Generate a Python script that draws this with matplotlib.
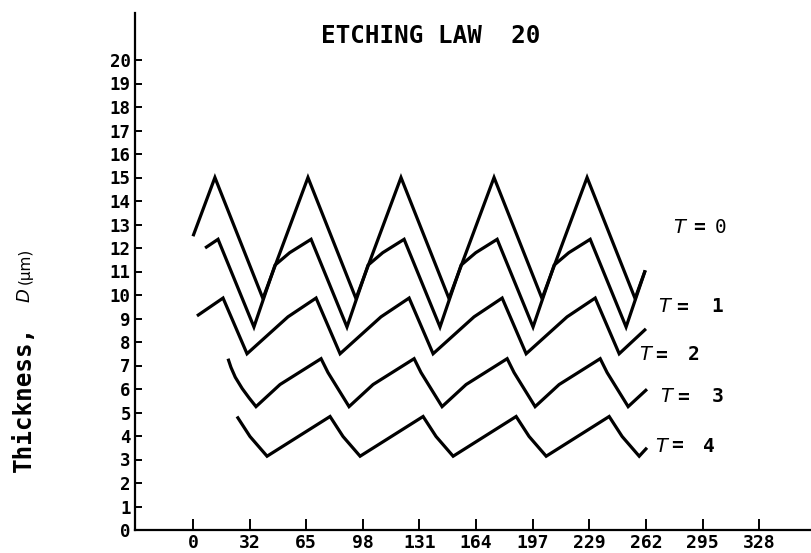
import matplotlib
matplotlib.use("Agg")
import matplotlib.pyplot as plt

W, H = 812, 553

# Thickness profiles (x position, thickness D in micrometres) for each etch time T
t0_x = [0.0, 12.7, 40.5, 66.6, 94.4, 120.5, 148.3, 174.4, 202.2, 228.3, 256.1, 262.0]
t0_y = [12.5, 15.0, 9.85, 15.0, 9.85, 15.0, 9.85, 15.0, 9.85, 15.0, 9.85, 11.05]

t1_x = [7.0, 14.5, 35.3, 47.5, 56.0, 68.4, 89.2, 101.4, 109.9, 122.3, 143.1, 155.3,
        163.8, 176.2, 197.0, 209.2, 217.7, 230.1, 250.9, 262.0]
t1_y = [12.0, 12.37, 8.64, 11.27, 11.8, 12.37, 8.64, 11.27, 11.8, 12.37, 8.64, 11.27,
        11.8, 12.37, 8.64, 11.27, 11.8, 12.37, 8.64, 11.05]

t2_x = [2.3, 17.4, 31.3, 55.0, 71.3, 85.2, 108.9, 125.2, 139.1, 162.8, 179.1, 193.0,
        216.7, 233.0, 246.9, 262.4]
t2_y = [9.11, 9.87, 7.5, 9.07, 9.87, 7.5, 9.07, 9.87, 7.5, 9.07, 9.87, 7.5,
        9.07, 9.87, 7.5, 8.56]

t3_x = [20.3, 22.0, 24.5, 28.5, 32.5, 36.5, 50.4, 74.2, 78.2, 90.4, 104.3, 128.1, 132.1,
        144.3, 158.2, 182.0, 186.0, 198.2, 212.1, 235.9, 239.9, 252.1, 263.0]
t3_y = [7.29, 6.92, 6.50, 6.02, 5.62, 5.25, 6.19, 7.29, 6.70, 5.25, 6.19, 7.29, 6.70,
        5.25, 6.19, 7.29, 6.70, 5.25, 6.19, 7.29, 6.70, 5.25, 5.99]

t4_x = [25.5, 33.0, 42.9, 79.4, 86.9, 96.8, 133.3, 140.8, 150.7, 187.2, 194.7, 204.6,
        241.1, 248.6, 258.5, 263.0]
t4_y = [4.83, 3.98, 3.14, 4.83, 3.98, 3.14, 4.83, 3.98, 3.14, 4.83, 3.98, 3.14,
        4.83, 3.98, 3.14, 3.5]

x_ticks = [0, 32.8, 65.6, 98.4, 131.2, 164.0, 196.8, 229.6, 262.4, 295.2, 328.0]
x_tick_labels = ["0", "32", "65", "98", "131", "164", "197", "229", "262", "295", "328"]
y_ticks = list(range(0, 21))
y_tick_labels = [str(v) for v in y_ticks]

curve_labels = ["0", "1", "2", "3", "4"]

MONO = "DejaVu Sans Mono"

fig = plt.figure(figsize=(W / 100, H / 100), dpi=100)
ax = fig.add_axes([135 / W, (H - 530) / H, (W - 135) / W, (530 - 13) / H])
ax.set_xlim(-33.6, 358.6)
ax.set_ylim(0, 22)

for xs, ys in [(t0_x, t0_y), (t1_x, t1_y), (t2_x, t2_y), (t3_x, t3_y), (t4_x, t4_y)]:
    ax.plot(xs, ys, color="black", lw=2.3, solid_joinstyle="miter",
            solid_capstyle="butt", clip_on=False)

for side in ("top", "right"):
    ax.spines[side].set_visible(False)
for side in ("left", "bottom"):
    ax.spines[side].set_linewidth(1.6)

ax.set_xticks(x_ticks)
ax.set_xticklabels(x_tick_labels, fontfamily=MONO, fontweight="bold", fontsize=13)
ax.set_yticks(y_ticks)
ax.set_yticklabels(y_tick_labels, fontfamily=MONO, fontweight="bold", fontsize=12.5)
ax.tick_params(axis="y", direction="in", length=5, width=1.4, pad=3)
ax.tick_params(axis="x", direction="in", length=8, width=1.4, pad=3)


def fx(px):
    return px / W


def fy(py):
    return 1 - py / H


# Title
fig.text(fx(431), fy(36), "ETCHING LAW  20", ha="center", va="center",
         fontfamily=MONO, fontweight="bold", fontsize=17.5)

# Vertical axis label: "Thickness, D (µm)"
fig.text(fx(24), fy(472), "Thickness,", rotation=90, rotation_mode="anchor",
         ha="left", va="center", fontfamily=MONO, fontweight="bold", fontsize=17.5)
fig.text(fx(25), fy(302), "D", rotation=90, rotation_mode="anchor",
         ha="left", va="center", fontfamily="DejaVu Sans", fontstyle="italic", fontsize=13)
fig.text(fx(25), fy(284), "(µm)", rotation=90, rotation_mode="anchor",
         ha="left", va="center", fontfamily="DejaVu Sans", fontsize=11)

# Curve labels: pixel positions of "T", "=" and the value
label_pos = [
    (673, 693, 715, 227),
    (658, 676, 711, 307),
    (639, 655, 688, 355),
    (660, 677, 712, 397),
    (655, 671, 703, 446),
]
for txt, (xt, xe, xn, yy) in zip(curve_labels, label_pos):
    fig.text(fx(xt), fy(yy), "T", ha="left", va="center",
             fontfamily="DejaVu Sans", fontstyle="italic", fontsize=14)
    fig.text(fx(xe), fy(yy), "=", ha="left", va="center",
             fontfamily=MONO, fontweight="bold", fontsize=14)
    fig.text(fx(xn), fy(yy), txt, ha="left", va="center",
             fontfamily=MONO, fontweight="normal" if txt == "0" else "bold", fontsize=14)

fig.savefig("out.png", dpi=100)
